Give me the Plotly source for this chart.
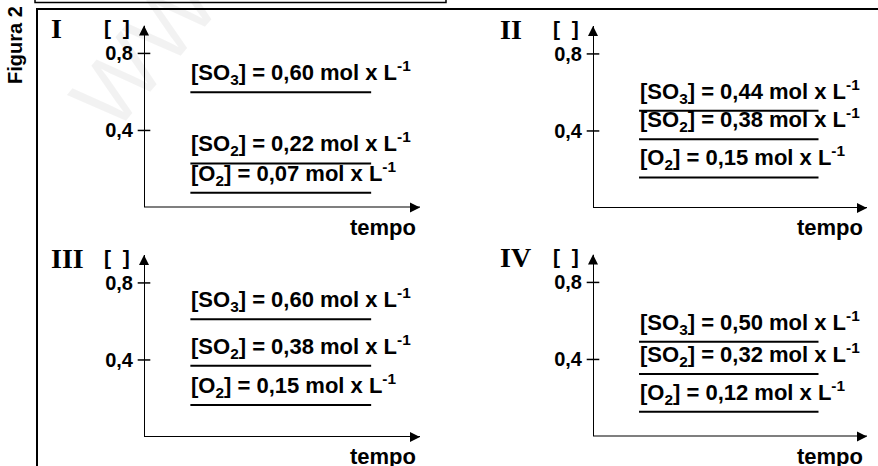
import plotly.graph_objects as go

W, H = 878, 466

# ---- data ----
panels = ["I", "II", "III", "IV"]
species = ["SO<sub>3</sub>", "SO<sub>2</sub>", "O<sub>2</sub>"]
# labelled concentrations (text)
so3_text = ["0,60", "0,44", "0,60", "0,50"]
so2_text = ["0,22", "0,38", "0,38", "0,32"]
o2_text = ["0,07", "0,15", "0,15", "0,12"]
# drawn levels of the lines (mol/L on the axis scale)
so3_level = [0.598, 0.505, 0.611, 0.492]
so2_level = [0.229, 0.357, 0.370, 0.325]
o2_level = [0.077, 0.159, 0.166, 0.129]
y_tick_vals = [0.4, 0.8]
y_tick_text = ["0,4", "0,8"]

# ---- layout constants (pixels) ----
# (x of y-axis, x of arrow tip, y of zero, y of top arrow tip)
geom = [(144, 420, 207.5, 25.5), (593, 867, 208, 26),
        (144, 420, 437, 255), (593, 867, 436.5, 254.5)]
Y_TOP = 0.945
X_END = 1.0
LX0, LX1 = 0.168, 0.823

SANS = "Liberation Sans, Arial, sans-serif"
SERIF = "Liberation Serif, Times New Roman, serif"

fig = go.Figure()
annotations = []

for i, (ax0, ax1, y0, yt) in enumerate(geom):
    n = "" if i == 0 else str(i + 1)
    xa, ya = "x" + n, "y" + n
    fig.update_layout(**{
        "xaxis" + n: dict(domain=[ax0 / W, ax1 / W], range=[0, X_END], visible=False,
                          anchor=ya, fixedrange=True),
        "yaxis" + n: dict(domain=[1 - y0 / H, 1 - yt / H], range=[0, Y_TOP], anchor=xa,
                          showgrid=False, zeroline=False, showline=False, ticks="",
                          tickvals=y_tick_vals, ticktext=y_tick_text,
                          ticklabelstandoff=10,
                          tickfont=dict(family=SANS, size=20, color="black", weight="bold"),
                          fixedrange=True),
    })
    # axes
    fig.add_trace(go.Scatter(x=[0, 0, X_END], y=[Y_TOP, 0, 0], mode="lines",
                             line=dict(color="black", width=2), xaxis=xa, yaxis=ya,
                             cliponaxis=False, hoverinfo="skip"))
    fig.add_trace(go.Scatter(x=[0, X_END], y=[Y_TOP, 0], mode="markers",
                             marker=dict(symbol=["arrow-up", "arrow-right"], size=10,
                                         color="black"),
                             xaxis=xa, yaxis=ya, cliponaxis=False, hoverinfo="skip"))
    fig.add_trace(go.Scatter(x=[0, 0], y=y_tick_vals, mode="markers",
                             marker=dict(symbol="line-ew", size=9,
                                         line=dict(color="black", width=1.5)),
                             xaxis=xa, yaxis=ya, cliponaxis=False, hoverinfo="skip"))
    levels = [so3_level[i], so2_level[i], o2_level[i]]
    texts = [so3_text[i], so2_text[i], o2_text[i]]
    for sp, lv, tx in zip(species, levels, texts):
        fig.add_trace(go.Scatter(x=[LX0, LX1], y=[lv, lv], mode="lines",
                                 line=dict(color="black", width=2), xaxis=xa, yaxis=ya,
                                 cliponaxis=False, hoverinfo="skip"))
        annotations.append(dict(
            xref=xa, yref=ya, x=LX0, y=lv, xanchor="left", yanchor="bottom",
            yshift=2, xshift=-1, showarrow=False,
            text=f"[{sp}] = {tx} mol x L<sup>-1</sup>",
            font=dict(family=SANS, size=22, color="black", weight="bold")))
    # axis labels
    annotations.append(dict(xref=xa, yref=ya, x=X_END, y=0, xanchor="right", yanchor="top",
                            xshift=-2, yshift=-5, showarrow=False, text="tempo",
                            font=dict(family=SANS, size=22, color="black", weight="bold")))
    annotations.append(dict(xref=xa, yref=ya, x=0, y=Y_TOP, xanchor="right", yanchor="middle",
                            xshift=-12, yshift=-2, showarrow=False,
                            text="[\u00a0\u00a0]",
                            font=dict(family=SANS, size=21, color="black", weight="bold")))
    annotations.append(dict(xref=xa, yref=ya, x=0, y=Y_TOP, xanchor="left", yanchor="middle",
                            xshift=-95, yshift=-3, showarrow=False, text=panels[i],
                            font=dict(family=SERIF, size=28, color="black", weight="bold")))

annotations.append(dict(xref="paper", yref="paper", x=15 / W, y=1 - 45 / H,
                        xanchor="center", yanchor="middle", textangle=-90,
                        showarrow=False, text="Figura 2",
                        font=dict(family=SANS, size=20, color="black", weight="bold")))
annotations.append(dict(xref="paper", yref="paper", x=145 / W, y=1 - 50 / H,
                        xanchor="center", yanchor="middle", textangle=-50,
                        showarrow=False, text="WW",
                        font=dict(family=SANS, size=90, color="rgba(0,0,0,0.05)")))

shapes = [
    dict(type="rect", xref="paper", yref="paper", x0=37 / W, x1=1.01, y0=-0.02,
         y1=1 - 9 / H, line=dict(color="black", width=2), layer="below"),
    dict(type="rect", xref="paper", yref="paper", x0=35 / W, x1=446 / W, y0=1 - 2.5 / H,
         y1=1.02, line=dict(color="black", width=1.5), layer="below"),
]

fig.update_layout(width=W, height=H, margin=dict(l=0, r=0, t=0, b=0),
                  paper_bgcolor="white", plot_bgcolor="white", showlegend=False,
                  annotations=annotations, shapes=shapes)

fig.write_html("out.html", config={"displayModeBar": False},
               post_script="document.body.style.margin='0';document.body.style.overflow='hidden';")
